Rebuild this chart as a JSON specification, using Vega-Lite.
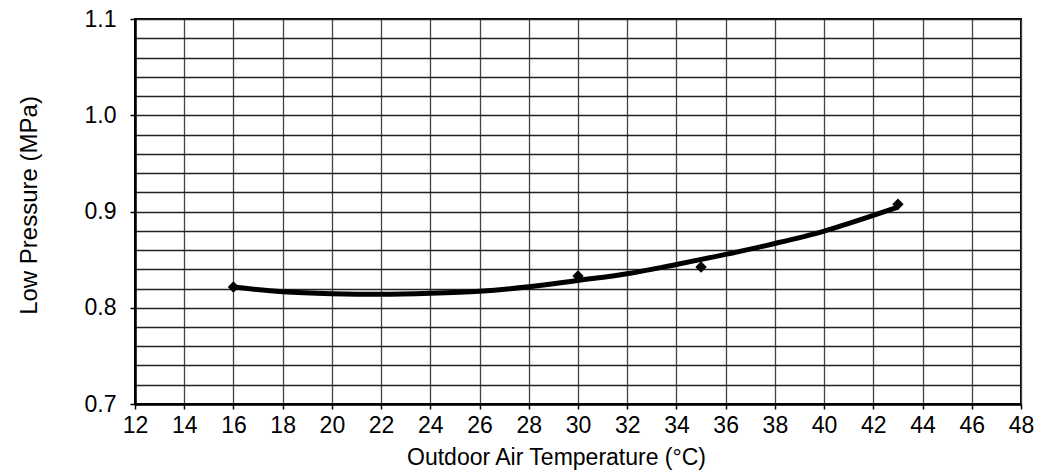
{
  "$schema": "https://vega.github.io/schema/vega-lite/v6.json",
  "width": 886,
  "height": 385,
  "autosize": "none",
  "padding": {"left": 135, "top": 19, "right": 21, "bottom": 69},
  "background": "white",
  "config": {
    "font": "Liberation Sans",
    "view": {"stroke": "#000", "strokeWidth": 2},
    "axis": {
      "labelFont": "Liberation Sans",
      "titleFont": "Liberation Sans",
      "labelColor": "#000",
      "titleColor": "#000",
      "labelFontWeight": "normal",
      "titleFontWeight": "normal"
    }
  },
  "datasets": {
    "curve": [
      {"temp": 16, "pressure": 0.8215},
      {"temp": 18, "pressure": 0.8166},
      {"temp": 20, "pressure": 0.8146},
      {"temp": 22, "pressure": 0.8140},
      {"temp": 24, "pressure": 0.8150},
      {"temp": 26, "pressure": 0.8172},
      {"temp": 28, "pressure": 0.8218},
      {"temp": 30, "pressure": 0.8284},
      {"temp": 32, "pressure": 0.8353},
      {"temp": 34, "pressure": 0.8450},
      {"temp": 36, "pressure": 0.8554},
      {"temp": 38, "pressure": 0.8668},
      {"temp": 40, "pressure": 0.8797},
      {"temp": 42, "pressure": 0.8959},
      {"temp": 43, "pressure": 0.9045}
    ],
    "points": [
      {"temp": 16, "pressure": 0.8215},
      {"temp": 30, "pressure": 0.8330},
      {"temp": 35, "pressure": 0.8423},
      {"temp": 43, "pressure": 0.9075}
    ]
  },
  "layer": [
    {
      "data": {"name": "curve"},
      "mark": {"type": "line", "color": "#000", "strokeWidth": 5, "interpolate": "monotone", "strokeCap": "butt"},
      "encoding": {
        "x": {
          "field": "temp", "type": "quantitative",
          "scale": {"domain": [12, 48], "nice": false, "zero": false},
          "axis": {
            "title": "Outdoor Air Temperature (°C)",
            "values": [12, 14, 16, 18, 20, 22, 24, 26, 28, 30, 32, 34, 36, 38, 40, 42, 44, 46, 48],
            "grid": true, "gridColor": "#444", "gridWidth": 1.3, "gridOpacity": 1,
            "domain": true, "domainColor": "#000", "domainWidth": 2.5,
            "ticks": true, "tickColor": "#000", "tickWidth": 1.5, "tickSize": 5,
            "labelFontSize": 23, "labelPadding": 5, "labelFlush": false,
            "titleFontSize": 23, "titleX": 421, "titleY": 60, "titleBaseline": "alphabetic", "titleAlign": "center"
          }
        },
        "y": {
          "field": "pressure", "type": "quantitative",
          "scale": {"domain": [0.7, 1.1], "nice": false, "zero": false},
          "axis": {
            "orient": "right",
            "title": null,
            "values": [0.7, 0.72, 0.74, 0.76, 0.78, 0.8, 0.82, 0.84, 0.86, 0.88, 0.9, 0.92, 0.94, 0.96, 0.98, 1.0, 1.02, 1.04, 1.06, 1.08, 1.1],
            "grid": true, "gridColor": "#222", "gridWidth": 1.3, "gridOpacity": 1,
            "labels": false, "ticks": false, "domain": false
          }
        }
      }
    },
    {
      "data": {"name": "points"},
      "mark": {"type": "point", "shape": "diamond", "filled": true, "color": "#000", "opacity": 1, "size": 130},
      "encoding": {
        "x": {"field": "temp", "type": "quantitative"},
        "y": {
          "field": "pressure", "type": "quantitative",
          "axis": {
            "orient": "left",
            "title": "Low Pressure (MPa)",
            "values": [0.7, 0.8, 0.9, 1.0, 1.1],
            "format": ".1f",
            "grid": false,
            "domain": true, "domainColor": "#000", "domainWidth": 2.5,
            "ticks": true, "tickColor": "#000", "tickWidth": 1.5, "tickSize": 5,
            "labelFontSize": 23, "labelPadding": 14, "labelFlush": false,
            "titleFontSize": 24, "titleAngle": -90, "titleX": -99, "titleY": 186, "titleBaseline": "alphabetic", "titleAlign": "center"
          }
        }
      }
    }
  ],
  "resolve": {"axis": {"y": "independent"}}
}
